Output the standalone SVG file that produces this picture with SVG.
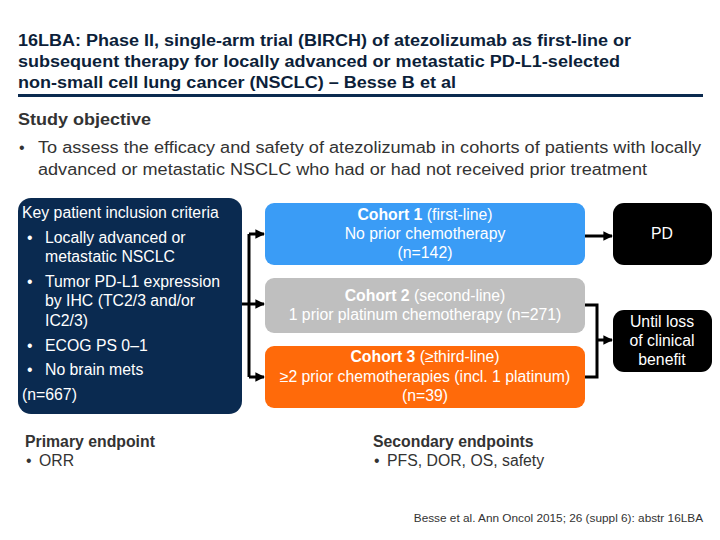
<svg xmlns="http://www.w3.org/2000/svg" width="720" height="540" viewBox="0 0 720 540">
<style>
text{font-family:"Liberation Sans",Arial,sans-serif}
.title{font-size:16px;font-weight:bold;fill:#0d1f3a}
.h{font-size:16px;font-weight:bold;fill:#333333}
.body{font-size:16px;fill:#333333}
.wt{font-size:15.8px;fill:#ffffff}
.wb{font-weight:bold}
.ep{font-size:15.8px;fill:#333333}
.cite{font-size:11.8px;fill:#333333}
.conn{fill:none;stroke:#000000;stroke-width:3}
</style>
<defs>
<marker id="ah" viewBox="0 0 10 10" refX="9" refY="5" markerWidth="3.2" markerHeight="3.2" orient="auto" markerUnits="strokeWidth">
<path d="M0,0 L10,5 L0,10 z" fill="#000000"/>
</marker>
</defs>
<rect width="720" height="540" fill="#ffffff"/>
<g id="header">
<text class="title" x="18" y="46" textLength="613" lengthAdjust="spacingAndGlyphs">16LBA: Phase II, single-arm trial (BIRCH) of atezolizumab as first-line or</text>
<text class="title" x="18" y="67" textLength="602" lengthAdjust="spacingAndGlyphs">subsequent therapy for locally advanced or metastatic PD-L1-selected</text>
<text class="title" x="18" y="88" textLength="438" lengthAdjust="spacingAndGlyphs">non-small cell lung cancer (NSCLC) – Besse B et al</text>
<rect x="18" y="94" width="685" height="3" fill="#0b2a4f"/>
</g>
<g id="objective">
<text class="h" x="18" y="125" textLength="133" lengthAdjust="spacingAndGlyphs">Study objective</text>
<text class="body" x="19" y="153">•</text>
<text class="body" x="38" y="153" textLength="663" lengthAdjust="spacingAndGlyphs">To assess the efficacy and safety of atezolizumab in cohorts of patients with locally</text>
<text class="body" x="38" y="175" textLength="609" lengthAdjust="spacingAndGlyphs">advanced or metastatic NSCLC who had or had not received prior treatment</text>
</g>
<g id="criteria">
<rect x="18" y="198" width="224" height="216" rx="13" fill="#0a2a50"/>
<text class="wt" x="22" y="218">Key patient inclusion criteria</text>
<text class="wt" x="27" y="243">•</text>
<text class="wt" x="45" y="243">Locally advanced or</text>
<text class="wt" x="45" y="262">metastatic NSCLC</text>
<text class="wt" x="27" y="287">•</text>
<text class="wt" x="45" y="287">Tumor PD-L1 expression</text>
<text class="wt" x="45" y="306">by IHC (TC2/3 and/or</text>
<text class="wt" x="45" y="326">IC2/3)</text>
<text class="wt" x="27" y="351">•</text>
<text class="wt" x="45" y="351">ECOG PS 0–1</text>
<text class="wt" x="27" y="375">•</text>
<text class="wt" x="45" y="375">No brain mets</text>
<text class="wt" x="22" y="400">(n=667)</text>
</g>
<g id="cohort1">
<rect x="265" y="203" width="320" height="62" rx="9" fill="#3a9cf6"/>
<text class="wt" x="425" y="220" text-anchor="middle"><tspan class="wb">Cohort 1</tspan> (first-line)</text>
<text class="wt" x="425" y="239" text-anchor="middle">No prior chemotherapy</text>
<text class="wt" x="425" y="258" text-anchor="middle">(n=142)</text>
</g>
<g id="cohort2">
<rect x="265" y="278" width="320" height="55" rx="9" fill="#bfbfbf"/>
<text class="wt" x="425" y="301" text-anchor="middle"><tspan class="wb">Cohort 2</tspan> (second-line)</text>
<text class="wt" x="425" y="320" text-anchor="middle">1 prior platinum chemotherapy (n=271)</text>
</g>
<g id="cohort3">
<rect x="265" y="346" width="320" height="62" rx="9" fill="#ff6a0a"/>
<text class="wt" x="425" y="362" text-anchor="middle"><tspan class="wb">Cohort 3</tspan> (≥third-line)</text>
<text class="wt" x="425" y="382" text-anchor="middle">≥2 prior chemotherapies (incl. 1 platinum)</text>
<text class="wt" x="425" y="401" text-anchor="middle">(n=39)</text>
</g>
<g id="pd">
<rect x="613" y="203" width="99" height="62" rx="11" fill="#000000"/>
<text class="wt" x="662" y="239" text-anchor="middle">PD</text>
</g>
<g id="untilloss">
<rect x="613" y="310" width="99" height="62" rx="11" fill="#000000"/>
<text class="wt" x="662" y="327" text-anchor="middle">Until loss</text>
<text class="wt" x="662" y="346" text-anchor="middle">of clinical</text>
<text class="wt" x="662" y="365" text-anchor="middle">benefit</text>
</g>
<g id="connectors">
<path class="conn" d="M242,304 H249"/>
<path class="conn" d="M249,234 V377"/>
<path class="conn" d="M249,234 H264" marker-end="url(#ah)"/>
<path class="conn" d="M249,304 H264" marker-end="url(#ah)"/>
<path class="conn" d="M249,377 H264" marker-end="url(#ah)"/>
<path class="conn" d="M585,236 H612" marker-end="url(#ah)"/>
<path class="conn" d="M585,305 H597 V377 H585"/>
<path class="conn" d="M597,340 H612" marker-end="url(#ah)"/>
</g>
<g id="endpoints">
<text class="ep" x="25" y="447" font-weight="bold">Primary endpoint</text>
<text class="ep" x="26" y="466">•</text>
<text class="ep" x="39" y="466">ORR</text>
<text class="ep" x="373" y="447" font-weight="bold">Secondary endpoints</text>
<text class="ep" x="374" y="466">•</text>
<text class="ep" x="387" y="466">PFS, DOR, OS, safety</text>
<text class="cite" x="703" y="522" text-anchor="end">Besse et al. Ann Oncol 2015; 26 (suppl 6): abstr 16LBA</text>
</g>
</svg>
